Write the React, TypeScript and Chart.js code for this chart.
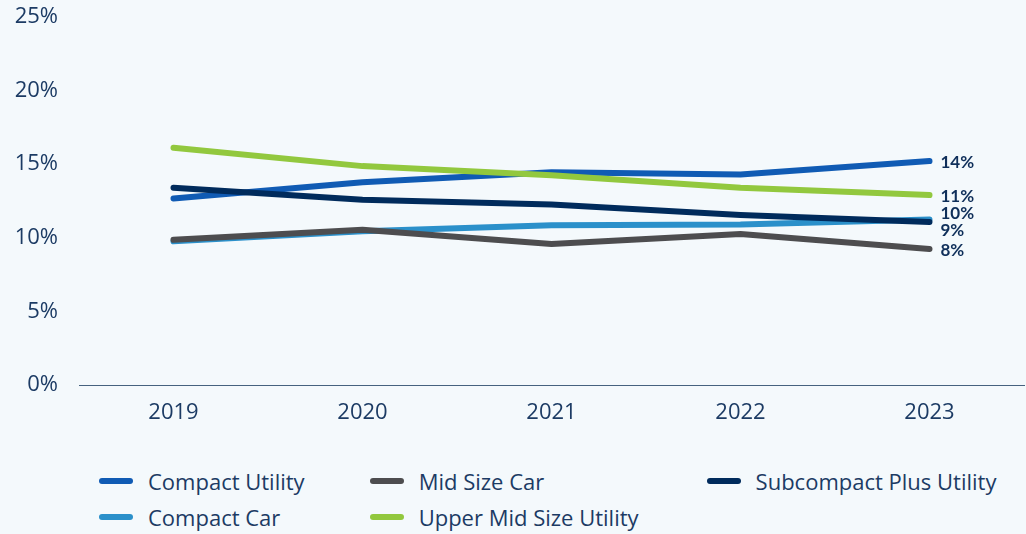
import React, { useEffect, useRef } from "react";
import { Chart, registerables } from "chart.js";

Chart.register(...registerables);

const years = ["2019", "2020", "2021", "2022", "2023"];
const compactUtility = [12.67, 13.78, 14.46, 14.3, 15.21];
const midSizeCar = [9.86, 10.54, 9.58, 10.26, 9.24];
const subcompactPlusUtility = [13.4, 12.58, 12.26, 11.55, 11.08];
const compactCar = [9.76, 10.44, 10.86, 10.9, 11.24];
const upperMidSizeUtility = [16.12, 14.87, 14.25, 13.4, 12.9];
const endLabels = ["14%", "8%", "9%", "10%", "11%"];
const seriesNames = [
  "Compact Utility",
  "Mid Size Car",
  "Subcompact Plus Utility",
  "Compact Car",
  "Upper Mid Size Utility",
];
const seriesColors = ["#105BB4", "#4D4D4F", "#002B5C", "#2B90CA", "#92C83E"];
const drawOrder = [4, 2, 3, 5, 1];
const yTicks = [0, 5, 10, 15, 20, 25];

const FONT = "'Open Sans', sans-serif";
const LABEL_FONT = "Lato, 'Open Sans', sans-serif";
const TEXT = "#1C3B64";

const endLabelPlugin = {
  id: "endLabels",
  afterDatasetsDraw(chart: any) {
    const ctx = chart.ctx;
    const items: { y: number; x: number; text: string }[] = [];
    chart.data.datasets.forEach((ds: any, i: number) => {
      const meta = chart.getDatasetMeta(i);
      const pt = meta.data[meta.data.length - 1];
      if (!pt) return;
      items.push({ x: pt.x, y: pt.y, text: endLabels[i] });
    });
    items.sort((a, b) => a.y - b.y);
    const gap = 16.5;
    for (let it = 0; it < 100; it++) {
      for (let k = 1; k < items.length; k++) {
        const d = items[k].y - items[k - 1].y;
        if (d < gap) {
          const push = (gap - d) / 2;
          items[k].y += push;
          items[k - 1].y -= push;
        }
      }
    }
    ctx.save();
    ctx.font = `bold 17px ${LABEL_FONT}`;
    ctx.fillStyle = "#0F2F5A";
    ctx.textAlign = "left";
    ctx.textBaseline = "middle";
    items.forEach((it) => ctx.fillText(it.text, it.x + 11, it.y + 1.5));
    ctx.restore();
  },
};

export default function App() {
  const ref = useRef<HTMLCanvasElement>(null);

  useEffect(() => {
    if (!ref.current) return;
    const series = [compactUtility, midSizeCar, subcompactPlusUtility, compactCar, upperMidSizeUtility];
    const chart = new Chart(ref.current, {
      type: "line",
      data: {
        labels: years,
        datasets: series.map((data, i) => ({
          label: seriesNames[i],
          data,
          borderColor: seriesColors[i],
          backgroundColor: seriesColors[i],
          borderWidth: 6,
          borderCapStyle: "round",
          borderJoinStyle: "round",
          pointRadius: 0,
          pointHoverRadius: 0,
          tension: 0,
          fill: false,
          order: drawOrder[i],
        })),
      },
      options: {
        animation: false,
        responsive: false,
        layout: { padding: { top: 17, right: 2, left: 0, bottom: 0 } },
        plugins: { legend: { display: false }, tooltip: { enabled: false } },
        scales: {
          x: {
            offset: true,
            grid: { display: false, drawTicks: false },
            border: { display: true, color: "#46627F", width: 1 },
            ticks: { color: TEXT, font: { family: FONT, size: 22 }, padding: 15 },
            afterFit: (s: any) => {
              s.height = 56;
              s.paddingLeft = 0;
              s.paddingRight = 0;
            },
          },
          y: {
            min: 0,
            max: 25,
            afterBuildTicks: (s: any) => {
              s.ticks = yTicks.map((v) => ({ value: v }));
            },
            grid: { display: false, drawTicks: false },
            border: { display: false },
            ticks: {
              color: TEXT,
              font: { family: FONT, size: 22 },
              padding: 21,
              callback: (v: any) => `${v}%`,
            },
            afterFit: (s: any) => {
              s.width = 79;
              s.paddingTop = 0;
              s.paddingBottom = 0;
            },
          },
        },
      },
      plugins: [endLabelPlugin],
    } as any);
    return () => chart.destroy();
  }, []);

  const legendOrder = [0, 1, 2, 3, 4];

  return (
    <div
      style={{
        position: "absolute",
        left: 0,
        top: 0,
        width: 1026,
        height: 534,
        background: "#F4F9FC",
        overflow: "hidden",
      }}
    >
      <canvas ref={ref} width={1026} height={441} style={{ position: "absolute", left: 0, top: 0 }} />
      <div
        style={{
          position: "absolute",
          left: 99,
          top: 469,
          display: "grid",
          gridTemplateColumns: "auto auto auto",
          columnGap: 65,
          rowGap: 12,
          fontFamily: FONT,
          fontSize: 22,
          color: TEXT,
        }}
      >
        {legendOrder.map((i) => (
          <div
            key={i}
            style={{
              display: "flex",
              alignItems: "center",
              height: 24,
              whiteSpace: "nowrap",
              marginLeft: i === 2 ? 3 : 0,
            }}
          >
            <span
              style={{
                display: "inline-block",
                width: 34,
                height: 6,
                borderRadius: 3,
                background: seriesColors[i],
                marginRight: 15,
              }}
            />
            <span>{seriesNames[i]}</span>
          </div>
        ))}
      </div>
    </div>
  );
}
